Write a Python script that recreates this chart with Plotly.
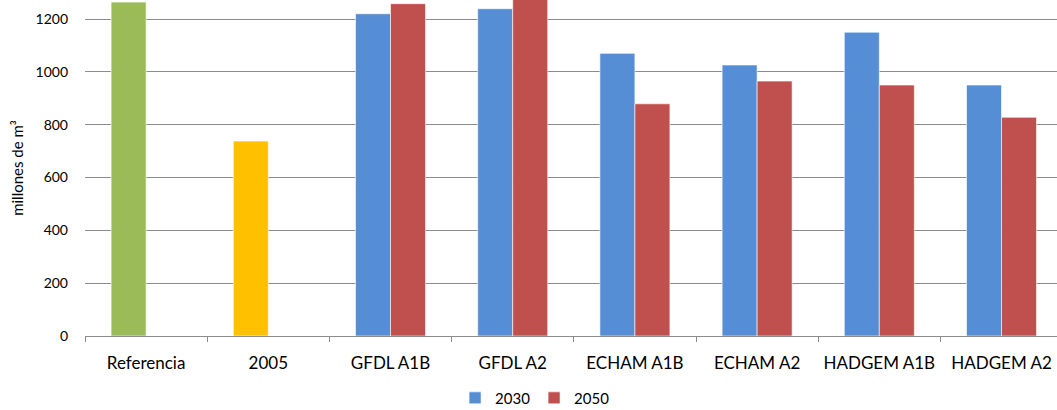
import plotly.graph_objects as go

categories = ["Referencia", "2005", "GFDL A1B", "GFDL A2", "ECHAM A1B", "ECHAM A2", "HADGEM A1B", "HADGEM A2"]
referencia = [1264, None, None, None, None, None, None, None]
base_2005 = [None, 738, None, None, None, None, None, None]
s2030 = [None, None, 1220, 1239, 1070, 1026, 1150, 950]
s2050 = [None, None, 1258, 1290, 879, 965, 950, 828]
y_ticks = [0, 200, 400, 600, 800, 1000, 1200]

FONT = "Lato"
line = dict(color="rgba(255,255,255,0.6)", width=1)

fig = go.Figure()
fig.add_trace(go.Bar(x=categories, y=referencia, offsetgroup="a", marker=dict(color="#9BBB59", line=line), showlegend=False))
fig.add_trace(go.Bar(x=categories, y=base_2005, offsetgroup="a", marker=dict(color="#FFC000", line=line), showlegend=False))
fig.add_trace(go.Bar(x=categories, y=s2030, name="2030", offsetgroup="a", marker=dict(color="#558ED5", line=line)))
fig.add_trace(go.Bar(x=categories, y=s2050, name="2050", offsetgroup="b", marker=dict(color="#C0504D", line=line)))

fig.update_layout(
    width=1057, height=410,
    margin=dict(l=85, r=0, t=0, b=74),
    barmode="group", bargap=0.427, bargroupgap=0,
    plot_bgcolor="white", paper_bgcolor="white",
    font=dict(family=FONT, size=15, color="#000000"),
    legend=dict(orientation="h", x=0.462, xanchor="center", yref="container", y=0.029, yanchor="middle",
                font=dict(size=15), itemwidth=30, entrywidth=34, traceorder="normal"),
    xaxis=dict(type="category", range=[-0.5, 7.454], showline=True, linecolor="#8c8c8c", linewidth=1,
               ticks="outside", tickson="boundaries", ticklen=5, tickcolor="#8c8c8c",
               showgrid=False, tickfont=dict(size=17), ticklabelstandoff=12, automargin=False),
    yaxis=dict(range=[0, 1272], tickvals=y_ticks, showgrid=True, gridcolor="#8c8c8c", gridwidth=1,
               zeroline=False, showline=False, tickfont=dict(size=14), ticklabelstandoff=16,
               automargin=False,
               title=dict(text="millones de m³", font=dict(size=15), standoff=8)),
)

fig.write_html("out.html", config={"displayModeBar": False},
               post_script="document.body.style.margin='0';")
